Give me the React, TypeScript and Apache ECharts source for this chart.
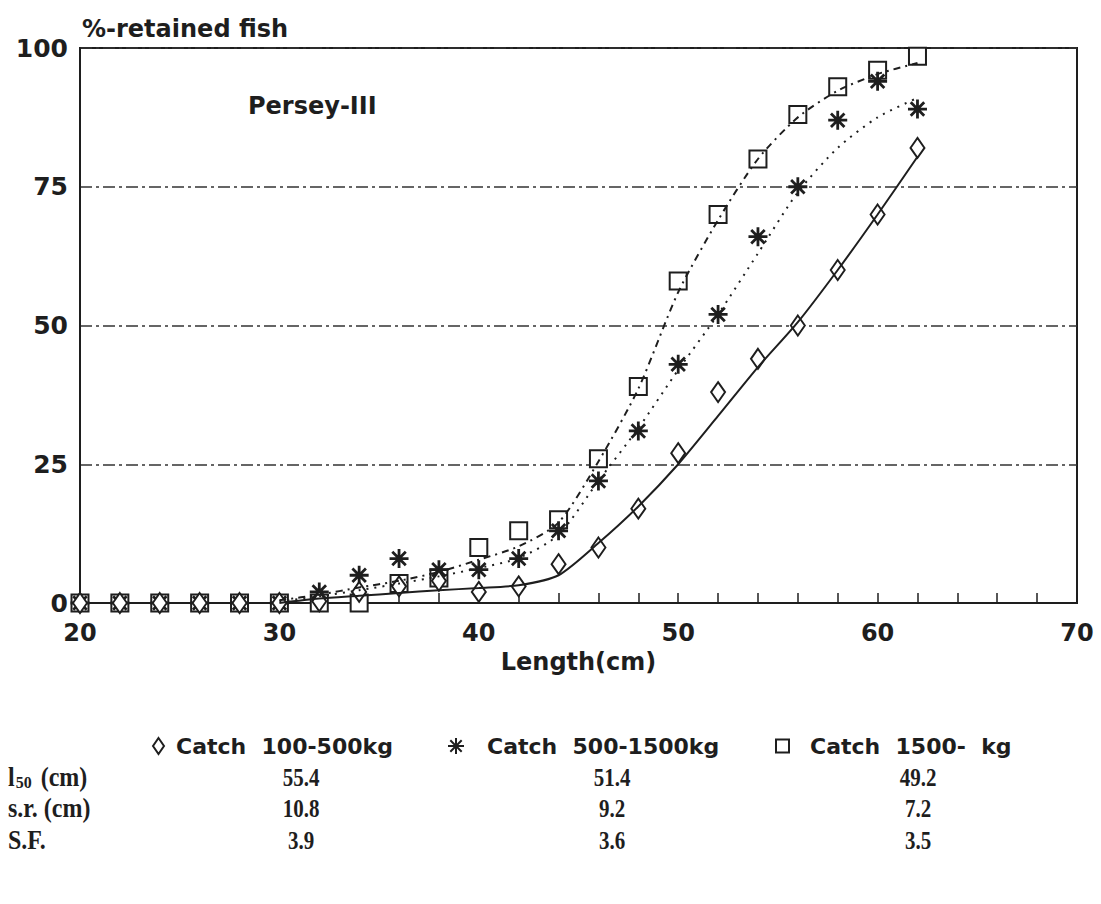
import React, { useEffect, useRef } from "react";
import * as echarts from "echarts";

// Observed points (length classes, cm) and % retained
const lengths = [20, 22, 24, 26, 28, 30, 32, 34, 36, 38, 40, 42, 44, 46, 48, 50, 52, 54, 56, 58, 60, 62];
const retainedSmall = [0, 0, 0, 0, 0, 0, 0.3, 2, 3, 4, 2, 3, 7, 10, 17, 27, 38, 44, 50, 60, 70, 82];
const retainedMid = [0, 0, 0, 0, 0, 0, 2, 5, 8, 6, 6, 8, 13, 22, 31, 43, 52, 66, 75, 87, 94, 89];
const retainedLarge = [0, 0, 0, 0, 0, 0, 0, 0, 3.5, 4.5, 10, 13, 15, 26, 39, 58, 70, 80, 88, 93, 96, 98.5];

// Fitted selection curves
const fitLengths = [30, 32, 34, 36, 38, 40, 42, 44, 46, 48, 50, 52, 54, 56, 58, 60, 62];
const fitSmall = [0, 0.8, 1.3, 1.8, 2.3, 2.7, 3.2, 5.0, 10.8, 17.4, 25, 33.7, 42.5, 50.6, 60, 70, 80.4];
const fitMid = [0.3, 1.2, 2.3, 3.5, 4.8, 6.3, 8.1, 12.3, 22, 31.5, 42, 52, 63, 74, 82, 87.5, 91];
const fitLarge = [0.5, 1.5, 2.8, 4, 5.6, 7.8, 10.2, 14.5, 25.5, 38.6, 56, 69, 80, 87.5, 92.3, 95.3, 97.3];

const seriesNames = ["Catch\u00a0 100-500kg", "Catch\u00a0 500-1500kg", "Catch\u00a0 1500-\u00a0 kg"];
const yTicks = [0, 25, 50, 75, 100];

// Table below the chart
const rowLabels = ["l50 (cm)", "s.r. (cm)", "S.F."];
const l50Values = [55.4, 51.4, 49.2];
const srValues = [10.8, 9.2, 7.2];
const sfValues = [3.9, 3.6, 3.5];

const INK = "#1e1e1e";
const ASTERISK = "path://M10,0V20M0,10H20M2.9,2.9L17.1,17.1M17.1,2.9L2.9,17.1";
const SANS = "DejaVu Sans";
const SERIF = "Liberation Serif";

const pairs = (xs: number[], ys: number[]) => xs.map((x, i) => [x, ys[i]]);

export default function App() {
  const ref = useRef<HTMLDivElement>(null);
  useEffect(() => {
    if (!ref.current) return;
    const chart = echarts.init(ref.current, undefined, { renderer: "svg" });

    const tableRows = [l50Values, srValues, sfValues];
    const rowY = [777, 808, 840];
    const colX = [301, 612, 918];
    const graphics: any[] = [
      {
        type: "text",
        x: 248,
        y: 106,
        style: { text: "Persey-III", fontSize: 24, fontWeight: "bold", fontFamily: SANS, fill: INK, verticalAlign: "middle" },
      },
    ];
    rowLabels.forEach((lab, i) => {
      const isL50 = i === 0;
      graphics.push({
        type: "text",
        x: 8,
        y: rowY[i],
        scaleY: 1.1,
        style: isL50
          ? {
              text: "{a|l}{b|50}{a| (cm)}",
              verticalAlign: "middle",
              fill: INK,
              rich: {
                a: { fontSize: 24, fontFamily: SERIF, fontWeight: "bold", fill: INK },
                b: { fontSize: 16, fontFamily: SERIF, fontWeight: "bold", fill: INK, padding: [10, 3, 0, 1] },
              },
            }
          : { text: lab, fontSize: 24, fontFamily: SERIF, fontWeight: "bold", fill: INK, verticalAlign: "middle" },
      });
      tableRows[i].forEach((v, j) => {
        graphics.push({
          type: "text",
          x: colX[j],
          y: rowY[i],
          scaleY: 1.2,
          style: { text: v.toFixed(1), fontSize: 21, fontFamily: SERIF, fontWeight: "bold", fill: INK, align: "center", verticalAlign: "middle" },
        });
      });
    });

    const icons = ["emptyDiamond", ASTERISK, "emptyRect"];
    const legendLeft = [147, 442, 770];
    const legendPad = [7, 18, 16];
    const legendSize = [
      [11, 16],
      [16, 16],
      [13, 13],
    ];

    const option: any = {
      animation: false,
      backgroundColor: "#fff",
      title: {
        text: "%-retained fish",
        left: 77,
        top: 12,
        textStyle: { fontFamily: SANS, fontWeight: "bold", fontSize: 24, color: INK },
      },
      legend: seriesNames.map((name, i) => ({
        data: [{ name, icon: icons[i] }],
        left: legendLeft[i],
        top: 730,
        itemWidth: legendSize[i][0],
        itemHeight: legendSize[i][1],
        textStyle: { fontFamily: SANS, fontWeight: "bold", fontSize: 22, color: INK, padding: [0, 0, 0, legendPad[i]] },
        itemStyle: { color: INK, borderColor: INK, borderWidth: 2, opacity: 1 },
        selectedMode: false,
      })),
      grid: { left: 80, right: 24, top: 48, bottom: 301, show: true, borderColor: INK, borderWidth: 2 },
      xAxis: {
        type: "value",
        min: 20,
        max: 70,
        interval: 2,
        name: "Length(cm)",
        nameLocation: "middle",
        nameGap: 46,
        nameTextStyle: { fontFamily: SANS, fontWeight: "bold", fontSize: 24, color: INK },
        axisLine: { show: true, lineStyle: { color: INK, width: 2 } },
        axisTick: { show: true, inside: true, length: 10, lineStyle: { color: INK, width: 1.5 } },
        axisLabel: {
          formatter: (v: number) => (v % 10 === 0 ? String(v) : ""),
          fontFamily: SANS,
          fontWeight: "bold",
          fontSize: 24,
          color: INK,
          margin: 18,
        },
        splitLine: { show: false },
      },
      yAxis: {
        type: "value",
        min: yTicks[0],
        max: yTicks[yTicks.length - 1],
        interval: 25,
        axisLine: { show: true, lineStyle: { color: INK, width: 2 } },
        axisTick: { show: false },
        axisLabel: { fontFamily: SANS, fontWeight: "bold", fontSize: 25, color: INK, margin: 12 },
        splitLine: { show: true, lineStyle: { color: "#333", width: 1.5, type: [12, 4, 3, 4] } },
      },
      graphic: graphics,
      series: [
        {
          type: "line",
          name: "fit small",
          data: pairs(fitLengths, fitSmall),
          smooth: 0.25,
          showSymbol: false,
          silent: true,
          lineStyle: { color: INK, width: 2 },
        },
        {
          type: "line",
          name: "fit mid",
          data: pairs(fitLengths, fitMid),
          smooth: 0.25,
          showSymbol: false,
          silent: true,
          lineStyle: { color: INK, width: 2, type: [2, 6] },
        },
        {
          type: "line",
          name: "fit large",
          data: pairs(fitLengths, fitLarge),
          smooth: 0.25,
          showSymbol: false,
          silent: true,
          lineStyle: { color: INK, width: 2, type: [7, 5, 2, 5] },
        },
        {
          type: "scatter",
          name: seriesNames[2],
          data: pairs(lengths, retainedLarge),
          symbol: "emptyRect",
          symbolSize: 17,
          itemStyle: { color: INK, borderWidth: 2.5, opacity: 1 },
        },
        {
          type: "scatter",
          name: seriesNames[1],
          data: pairs(lengths, retainedMid),
          symbol: ASTERISK,
          symbolSize: 19,
          itemStyle: { color: INK, borderColor: INK, borderWidth: 2.8, opacity: 1 },
        },
        {
          type: "scatter",
          name: seriesNames[0],
          data: pairs(lengths, retainedSmall),
          symbol: "emptyDiamond",
          symbolSize: [14, 20],
          itemStyle: { color: INK, borderWidth: 2.5, opacity: 1 },
        },
      ],
    };
    chart.setOption(option);
    return () => chart.dispose();
  }, []);
  return <div ref={ref} style={{ position: "absolute", left: 0, top: 0, width: 1101, height: 904, background: "#fff" }} />;
}
